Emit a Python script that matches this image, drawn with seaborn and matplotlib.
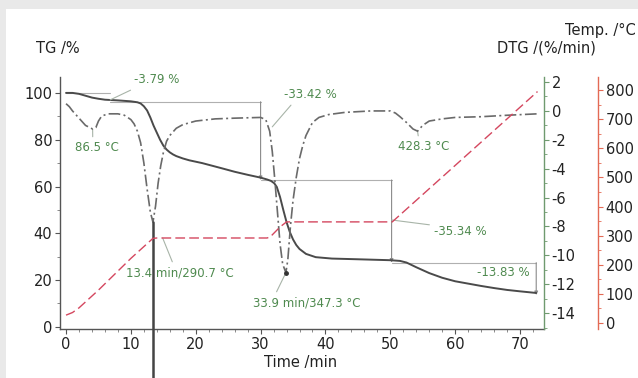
import numpy as np
import pandas as pd
import matplotlib
matplotlib.use("Agg")
import matplotlib.pyplot as plt
import seaborn as sns
from matplotlib.patches import Rectangle

# ---------------- data ----------------
tg_time = [0, 1, 2, 3, 4, 5, 6, 8, 10, 11, 11.5, 12, 12.5, 13, 13.5, 14, 14.5, 15, 15.5, 16,
           16.5, 17, 18, 19, 21, 24, 26, 28, 30, 31, 31.6, 32.1, 32.5, 33, 33.5, 34, 34.5,
           35, 35.5, 36, 37, 38.5, 41, 45, 50, 51.5, 52.5, 54, 56, 58, 60, 62, 64, 66, 68,
           70, 72.5]
tg_val = [100, 100, 99.6, 98.8, 98.0, 97.5, 97.1, 96.8, 96.4, 96.0, 95.5, 94.3, 92.5, 89.5,
          86.0, 83.0, 80.0, 77.5, 75.8, 74.6, 73.7, 73.0, 72.0, 71.2, 70.0, 67.8, 66.3, 65.0,
          63.8, 63.0, 62.4, 61.4, 59.8, 55.5, 50.0, 44.8, 40.6, 37.4, 35.0, 33.3, 31.2, 29.8,
          29.2, 28.9, 28.5, 28.2, 27.5, 25.5, 23.0, 21.0, 19.5, 18.5, 17.5, 16.6, 15.8,
          15.2, 14.5]

dtg_time = [0, 0.5, 1, 2, 3, 4.1, 4.6, 5, 5.5, 6.5, 8, 9, 10, 10.5, 11, 11.5, 12, 12.5, 13,
            13.4, 13.8, 14.2, 14.6, 15, 15.5, 16, 17, 18, 20, 23, 26, 30, 30.8, 31.4, 31.8,
            32.2, 32.6, 33, 33.4, 33.9, 34.2, 34.6, 35, 35.5, 36, 36.5, 37, 38, 39, 40.5, 43,
            47, 50, 50.8, 51.5, 52.5, 53.5, 54.2, 55, 56, 58, 60, 64, 68, 72.7]
dtg_val = [0.5, 0.3, 0.0, -0.5, -1.0, -1.25, -1.15, -0.7, -0.35, -0.2, -0.2, -0.3, -0.6,
           -0.9, -1.4, -2.2, -3.6, -5.4, -7.0, -7.7, -6.6, -5.0, -3.8, -2.9, -2.1, -1.7,
           -1.2, -0.95, -0.7, -0.55, -0.5, -0.45, -0.6, -1.4, -2.8, -4.8, -7.0, -9.2, -10.6,
           -11.2, -10.3, -8.0, -6.2, -4.6, -3.3, -2.4, -1.7, -0.8, -0.45, -0.25, -0.1, 0.0,
           0.0, -0.15, -0.4, -0.8, -1.25, -1.4, -1.0, -0.7, -0.55, -0.45, -0.4, -0.3, -0.2]

temp_time = [0, 1, 2, 5, 10, 13.4, 14, 31, 31.5, 33, 34, 50.3, 72.7]
temp_val = [27, 36, 52, 113, 222, 290.7, 292, 292, 296, 330, 347.3, 347.3, 795]

# mass-loss steps (labels) and where the step markers stand
step_losses = [3.79, 33.42, 35.34, 13.83]
step_times = [6.8, 30.0, 50.2, 72.5]

# ---------------- style ----------------
sns.set_style("ticks")
plt.rcParams["font.family"] = ["DejaVu Sans"]

GREEN = "#4f8a4f"
LEAD = "#a8b4a8"
TXT = "#222222"

fig = plt.figure(figsize=(6.38, 3.78), dpi=100, facecolor="#e9e9e9")
fig.patches.append(Rectangle((6 / 638, 0), 1, 1 - 9 / 378, transform=fig.transFigure,
                             facecolor="white", edgecolor="none", zorder=-10))

ax = fig.add_axes([60 / 638, 1 - 329 / 378, 484 / 638, 252 / 378])
ax.set_facecolor("none")
ax2 = ax.twinx()
ax3 = ax.twinx()
ax3.spines["right"].set_position(("axes", (598 - 60) / 484))

tg_df = pd.DataFrame({"t": tg_time, "v": tg_val})
dtg_df = pd.DataFrame({"t": dtg_time, "v": dtg_val})
temp_df = pd.DataFrame({"t": temp_time, "v": temp_val})

sns.lineplot(data=tg_df, x="t", y="v", ax=ax, color="#4a4a4a", linewidth=1.4)
sns.lineplot(data=dtg_df, x="t", y="v", ax=ax2, color="#6a6a6a", linewidth=1.2,
             linestyle=(0, (7, 2, 1.2, 2)))
sns.lineplot(data=temp_df, x="t", y="v", ax=ax3, color="#d4475f", linewidth=1.0,
             linestyle=(0, (7, 3)))

# limits
ax.set_xlim(-0.93, 73.7)
ax.set_ylim(-0.9, 106.8)
ax2.set_ylim(-15.1, 2.35)
ax3.set_ylim(-20.6, 845)

# spines
for s in ["top", "right"]:
    ax.spines[s].set_visible(False)
for a in (ax2, ax3):
    for s in ["top", "left", "bottom"]:
        a.spines[s].set_visible(False)
ax.spines["left"].set_color("#555555")
ax.spines["bottom"].set_color("#555555")
ax2.spines["right"].set_color("#6f9a6f")
ax3.spines["right"].set_color("#e36a55")
for a in (ax, ax2, ax3):
    for s in a.spines.values():
        s.set_linewidth(1.0)

# ticks
ax.set_xticks(np.arange(0, 71, 10))
ax.set_xticks(np.arange(0, 74, 2), minor=True)
ax.set_yticks(np.arange(0, 101, 20))
ax.set_yticks(np.arange(0, 106, 10), minor=True)
ax2.set_yticks(np.arange(-14, 3, 2))
ax2.set_yticks(np.arange(-15, 3, 1), minor=True)
ax3.set_yticks(np.arange(0, 801, 100))
ax3.set_yticks(np.arange(0, 841, 50), minor=True)
for a in (ax, ax2, ax3):
    a.tick_params(which="major", length=3.5, width=0.8, labelsize=10.5, labelcolor=TXT,
                  pad=2, color="#555555")
    a.tick_params(which="minor", length=2, width=0.6, color="#777777")
ax2.tick_params(axis="y", which="both", color="#6f9a6f")
ax3.tick_params(axis="y", which="both", color="#e36a55")
ax.set_yticklabels([str(v) for v in range(0, 101, 20)])
ax2.set_yticklabels([str(v) for v in range(-14, 3, 2)])

# axis labels
ax.set_xlabel("Time /min", fontsize=10.5, color=TXT)
ax.xaxis.set_label_coords((301 - 60) / 484, (329 - 362) / 252)
ax.xaxis.label.set_va("center")
ax.set_ylabel("TG /%", fontsize=10.5, color=TXT, rotation=0, ha="left", va="center")
ax.yaxis.set_label_coords((36 - 60) / 484, (329 - 48) / 252)
ax2.set_ylabel("DTG /(%/min)", fontsize=10.5, color=TXT, rotation=0, ha="right", va="center")
ax2.yaxis.set_label_coords((596 - 60) / 484, (329 - 48) / 252)
ax3.set_ylabel("Temp. /°C", fontsize=10.5, color=TXT, rotation=0, ha="right", va="center")
ax3.yaxis.set_label_coords((636 - 60) / 484, (329 - 30) / 252)

# ---------------- step construction lines ----------------
levels = [100.0]
for loss in step_losses:
    levels.append(levels[-1] - loss)
ref = dict(color="#b0b0b0", linewidth=0.8, zorder=1)
ax.plot([0, step_times[0]], [levels[0], levels[0]], **ref)
for i in range(1, 4):
    ax.plot([step_times[i - 1], step_times[i]], [levels[i], levels[i]], **ref)
for i in range(1, 4):
    ax.annotate("", xy=(step_times[i], levels[i + 1]), xytext=(step_times[i], levels[i]),
                arrowprops=dict(arrowstyle="-|>", color="#8a8a8a", lw=0.8,
                                mutation_scale=5, shrinkA=0, shrinkB=0), zorder=1)

# ---------------- annotations ----------------
tfs = 8.5
lead = dict(arrowstyle="-", color=LEAD, lw=0.8, shrinkA=1, shrinkB=0)

ax.annotate("-3.79 %", xy=(step_times[0], levels[1] + 0.8), xytext=(14.0, 105.6),
            ha="center", va="center", color=GREEN, fontsize=tfs,
            arrowprops=dict(lead, relpos=(0.1, 0.0)))
ax.annotate("-33.42 %", xy=(31.8, 85.5), xytext=(37.7, 99.4), ha="center", va="center",
            color=GREEN, fontsize=tfs, arrowprops=dict(lead, relpos=(0.2, 0.0)))
ax.annotate("-35.34 %", xy=(step_times[2], 45.7), xytext=(60.8, 40.6), ha="center",
            va="center", color=GREEN, fontsize=tfs,
            arrowprops=dict(lead, relpos=(0.0, 1.0)))
ax.text(67.4, 23.1, "-13.83 %", ha="center", va="center", color=GREEN, fontsize=tfs)

i1 = int(np.argmin(dtg_val[:8]))
ax.annotate("86.5 °C", xy=(dtg_time[i1], dtg_val[i1]), xycoords=ax2.transData,
            xytext=(4.8, 76.5), textcoords=ax.transData, ha="center", va="center",
            color=GREEN, fontsize=tfs, arrowprops=dict(lead, relpos=(0.4, 1.0)))
i4 = 49 + int(np.argmin(dtg_val[49:]))
ax.annotate("428.3 °C", xy=(dtg_time[i4], dtg_val[i4]), xycoords=ax2.transData,
            xytext=(55.2, 76.9), textcoords=ax.transData, ha="center", va="center",
            color=GREEN, fontsize=tfs, arrowprops=dict(lead, relpos=(0.4, 1.0)))

i3 = int(np.argmin(dtg_val))
ax2.plot([dtg_time[i3]], [dtg_val[i3]], "o", color="#333333", markersize=2.5, zorder=5)
ax.annotate("33.9 min/347.3 °C", xy=(dtg_time[i3], dtg_val[i3]), xycoords=ax2.transData,
            xytext=(37.1, 10.3), textcoords=ax.transData, ha="center", va="center",
            color=GREEN, fontsize=tfs, arrowprops=dict(lead, relpos=(0.2, 1.0), shrinkB=2))

ax.annotate("13.4 min/290.7 °C", xy=(14.9, temp_val[6]), xycoords=ax3.transData,
            xytext=(17.5, 23.1), textcoords=ax.transData, ha="center", va="center",
            color=GREEN, fontsize=tfs, arrowprops=dict(lead, relpos=(0.45, 1.0)))

# dark vertical marker line at the first DTG peak, running past the axes
i2 = int(np.argmin(dtg_val[:30]))
ax2.plot([dtg_time[i2], dtg_time[i2]], [dtg_val[i2], -25], color="#444444",
         linewidth=1.8, clip_on=False, zorder=6)

fig.savefig("out.png", dpi=100, facecolor=fig.get_facecolor())
